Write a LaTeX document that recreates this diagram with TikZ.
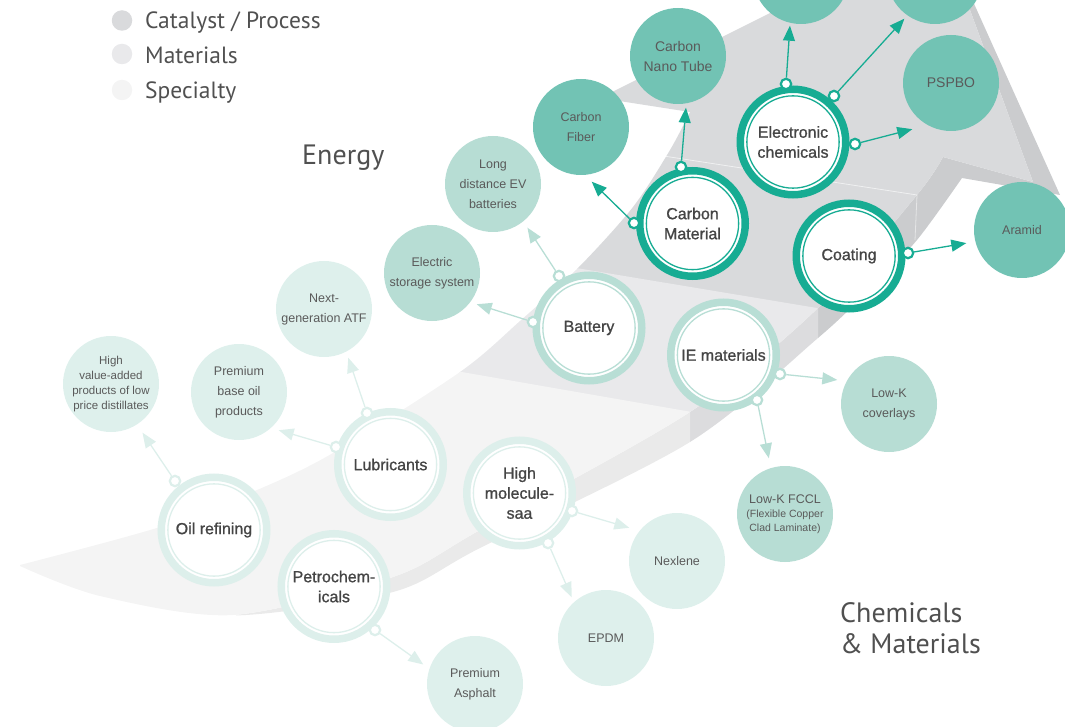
\documentclass[tikz,border=0pt]{standalone}
\usepackage{fontspec}
\setmainfont{Liberation Sans}
\newfontfamily\headfont{PT Sans}
\newfontfamily\ringfont{Liberation Sans}[FakeBold=1]
\usepackage{tikz}
\usetikzlibrary{arrows.meta}
\pgfdeclarelayer{bandlayer}
\pgfdeclarelayer{edgelayer}
\pgfdeclarelayer{nodelayer}
\pgfsetlayers{bandlayer,edgelayer,nodelayer,main}
\definecolor{tealline}{HTML}{17AC93}
\definecolor{tealfill}{HTML}{72C3B4}
\definecolor{mintline}{HTML}{B8DED5}
\definecolor{mintfill}{HTML}{B7DDD4}
\definecolor{paleline}{HTML}{DDEFEB}
\definecolor{palefill}{HTML}{DEF0EC}
\definecolor{ringtext}{HTML}{454545}
\definecolor{balltext}{HTML}{5A5A5A}
\definecolor{headtext}{HTML}{505050}
\definecolor{cattop}{HTML}{D9DADC}
\definecolor{catside}{HTML}{CBCCCE}
\definecolor{mattop}{HTML}{E9E9EB}
\definecolor{matside}{HTML}{DCDCDE}
\definecolor{spectop}{HTML}{F4F4F4}
\definecolor{specside}{HTML}{EAEAEA}
\tikzstyle{none}=[inner sep=0pt]
\tikzstyle{tealring}=[circle,fill=white,draw=tealline,line width=7.5pt,minimum size=105.5pt,inner sep=0pt]
\tikzstyle{mintring}=[circle,fill=white,draw=mintline,line width=7.5pt,minimum size=105.5pt,inner sep=0pt]
\tikzstyle{palering}=[circle,fill=white,draw=paleline,line width=7.5pt,minimum size=105.5pt,inner sep=0pt]
\tikzstyle{tealcore}=[circle,draw=tealline,line width=1.3pt,minimum size=92.3pt,inner sep=0pt,align=center,text=ringtext,font=\ringfont\fontsize{16}{20}\selectfont]
\tikzstyle{mintcore}=[circle,draw=mintline,line width=1.3pt,minimum size=92.3pt,inner sep=0pt,align=center,text=ringtext,font=\ringfont\fontsize{16}{20}\selectfont]
\tikzstyle{palecore}=[circle,draw=paleline,line width=1.3pt,minimum size=92.3pt,inner sep=0pt,align=center,text=ringtext,font=\ringfont\fontsize{16}{20}\selectfont]
\tikzstyle{tealball}=[circle,fill=tealfill,minimum size=96pt,inner sep=0pt,align=center,text=balltext,font=\fontsize{12.5}{20}\selectfont]
\tikzstyle{mintball}=[circle,fill=mintfill,minimum size=96pt,inner sep=0pt,align=center,text=balltext,font=\fontsize{12.5}{20}\selectfont]
\tikzstyle{paleball}=[circle,fill=palefill,minimum size=96pt,inner sep=0pt,align=center,text=balltext,font=\fontsize{12.5}{20}\selectfont]
\tikzstyle{tealdot}=[circle,fill=white,draw=tealline,line width=2.2pt,minimum size=10.4pt,inner sep=0pt]
\tikzstyle{mintdot}=[circle,fill=white,draw=mintline,line width=2.2pt,minimum size=10.4pt,inner sep=0pt]
\tikzstyle{paledot}=[circle,fill=white,draw=paleline,line width=2.2pt,minimum size=10.4pt,inner sep=0pt]
\tikzstyle{tealarrow}=[-{Triangle[length=15pt,width=12pt]},draw=tealline,line width=1.3pt]
\tikzstyle{mintarrow}=[-{Triangle[length=15pt,width=12pt]},draw=mintline,line width=1.3pt]
\tikzstyle{palearrow}=[-{Triangle[length=15pt,width=12pt]},draw=paleline,line width=1.3pt]
\tikzstyle{catdisc}=[circle,fill=cattop,minimum size=20.5pt,inner sep=0pt]
\tikzstyle{matdisc}=[circle,fill=mattop,minimum size=20.5pt,inner sep=0pt]
\tikzstyle{specdisc}=[circle,fill=spectop,minimum size=20.5pt,inner sep=0pt]
\tikzstyle{legend}=[inner sep=0pt,anchor=base west,text=headtext,font=\headfont\fontsize{23.5}{28}\selectfont]
\tikzstyle{sector}=[inner sep=0pt,anchor=base west,text=headtext,font=\headfont\fontsize{28}{31}\selectfont]
\newcommand{\bandtop}{plot [smooth] coordinates {(20,565) (160,527) (257,490) (333,453) (460,372) (520,321) (578,268) (633,207) (670,150) (690,112)} -- (600,98) -- (940,-72) -- (1033,182) -- (943,157) -- plot [smooth] coordinates {(943,157) (917,195) (818,308) (690,412) (480,530) (393,577) (233,615) (100,596) (20,566)} -- cycle}
\newcommand{\bandside}{plot [smooth] coordinates {(943,157) (917,195) (818,308) (690,412) (480,530) (393,577) (233,615) (100,596) (20,566)} -- plot [smooth] coordinates {(20,566) (100,596) (233,615.5) (393,592) (480,548) (690,442) (818,338) (870,289) (917,240) (962,178)} -- (1060,195) -- (940,-72) -- (1033,182) -- cycle}

\begin{document}
\begin{tikzpicture}[x=1pt,y=-1pt]
	\useasboundingbox (0,0) rectangle (1065,727);
	\begin{pgfonlayer}{bandlayer}
		\clip (0,0) rectangle (1065,727);
		\begin{scope}
			\clip (818,-100) rectangle (1100,800);
			\fill [catside] \bandside;
		\end{scope}
		\begin{scope}
			\clip (690,-100) rectangle (818,800);
			\fill [matside] \bandside;
		\end{scope}
		\begin{scope}
			\clip (236,-100) rectangle (690,800);
			\fill [specside] \bandside;
		\end{scope}
		\begin{scope}
			\clip (-50,-100) -- (1100,-100) -- (1100,356) -- (-50,165) -- cycle;
			\fill [cattop] \bandtop;
		\end{scope}
		\begin{scope}
			\clip (-50,164) -- (1100,355) -- (1100,484) -- (-50,284) -- cycle;
			\fill [mattop] \bandtop;
		\end{scope}
		\begin{scope}
			\clip (-50,283) -- (1100,483) -- (1100,800) -- (-50,800) -- cycle;
			\fill [spectop] \bandtop;
		\end{scope}
		\draw [white,opacity=0.6,line width=0.8pt] (657,155) -- (917,195);
		\draw [white,opacity=0.5,line width=0.8pt] (917,195) -- (915,240);
	\end{pgfonlayer}
	\begin{pgfonlayer}{nodelayer}
		\node [style=catdisc] (catalyst) at (122,20.5) {};
		\node [style=legend] (catalyst0) at (145,29) {Catalyst / Process};
		\node [style=matdisc] (material) at (122,54) {};
		\node [style=legend] (material0) at (145,63.5) {Materials};
		\node [style=specdisc] (specialty) at (122,90) {};
		\node [style=legend] (specialty0) at (145,98.5) {Specialty};
		\node [style=sector] (energy) at (302,165) {Energy};
		\node [style=sector] (chemicals) at (840,622) {Chemicals};
		\node [style=sector] (chemicals0) at (840,653) {\& Materials};
		\node [style=tealring] (carbon) at (692.500,223.500) {};
		\node [style=tealcore] (carbon0) at (692.500,223.500) {Carbon\\Material};
		\node [style=tealring] (electronic) at (793.000,142.000) {};
		\node [style=tealcore] (electronic0) at (793.000,142.000) {Electronic\\chemicals};
		\node [style=tealring] (coating) at (849.000,256.000) {};
		\node [style=tealcore] (coating0) at (849.000,256.000) {Coating};
		\node [style=mintring] (battery) at (589.000,328.000) {};
		\node [style=mintcore] (battery0) at (589.000,328.000) {Battery};
		\node [style=mintring] (iemat) at (723.500,355.000) {};
		\node [style=mintcore] (iemat0) at (723.500,355.000) {IE materials};
		\node [style=palering] (highmol) at (519.500,493.000) {};
		\node [style=palecore] (highmol0) at (519.500,493.000) {High\\molecule-\\saa};
		\node [style=palering] (lubricant) at (390.500,464.500) {};
		\node [style=palecore] (lubricant0) at (390.500,464.500) {Lubricants};
		\node [style=palering] (oilref) at (214.000,530.000) {};
		\node [style=palecore] (oilref0) at (214.000,530.000) {Oil refining};
		\node [style=palering] (petro) at (334.000,586.500) {};
		\node [style=palecore] (petro0) at (334.000,586.500) {Petrochem-\\icals};
		\node [style=tealball] (carbonfiber) at (581.000,127.000) {Carbon\\Fiber};
		\node [style=tealball,font=\fontsize{14}{20}\selectfont] (nanotube) at (678.000,56.000) {Carbon\\Nano Tube};
		\node [style=tealball] (chemleft) at (801.000,-24.000) {};
		\node [style=tealball] (chemright) at (935.000,-24.000) {};
		\node [style=tealball,font=\fontsize{14}{20}\selectfont] (pspbo) at (951.000,83.000) {PSPBO};
		\node [style=tealball] (aramid) at (1022.000,230.000) {Aramid};
		\node [style=mintball] (evbattery) at (493.000,184.000) {Long\\distance EV\\batteries};
		\node [style=mintball] (storage) at (432.000,273.000) {Electric\\storage system};
		\node [style=mintball] (coverlay) at (889.000,404.000) {Low-K\\coverlays};
		\node [style=mintball,font=\fontsize{12.5}{14}\selectfont] (lowkfccl) at (785.000,514.000) {Low-K FCCL\\\fontsize{10.5}{14}\selectfont(Flexible Copper\\\fontsize{10.5}{14}\selectfont Clad Laminate)};
		\node [style=paleball] (nextatf) at (324.000,309.000) {Next-\\generation ATF};
		\node [style=paleball] (baseoil) at (239.000,392.000) {Premium\\base oil\\products};
		\node [style=paleball,font=\fontsize{11.5}{14.7}\selectfont] (highvalue) at (111.000,384.000) {High\\value-added\\products of low\\price distillates};
		\node [style=paleball] (nexlene) at (677.000,561.000) {Nexlene};
		\node [style=paleball] (epdm) at (606.000,638.000) {EPDM};
		\node [style=paleball] (asphalt) at (475.000,684.000) {Premium\\Asphalt};
		\node [style=tealdot] (fiber) at (634.000,223.000) {};
		\node [style=none] (fiber0) at (591.000,181.000) {};
		\node [style=tealdot] (tube) at (681.000,167.000) {};
		\node [style=none] (tube0) at (686.000,107.000) {};
		\node [style=tealdot] (upper) at (786.000,84.000) {};
		\node [style=none] (upper0) at (790.000,25.000) {};
		\node [style=tealdot] (upperright) at (834.000,96.000) {};
		\node [style=none] (upperright0) at (905.000,18.000) {};
		\node [style=tealdot] (pbo) at (855.000,144.000) {};
		\node [style=none] (pbo0) at (913.000,129.000) {};
		\node [style=tealdot] (aram) at (908.000,253.000) {};
		\node [style=none] (aram0) at (967.000,243.000) {};
		\node [style=mintdot] (ev) at (559.000,276.000) {};
		\node [style=none] (ev0) at (527.000,227.000) {};
		\node [style=mintdot] (ess) at (533.000,322.000) {};
		\node [style=none] (ess0) at (476.000,304.000) {};
		\node [style=mintdot] (lowk) at (780.000,374.000) {};
		\node [style=none] (lowk0) at (838.000,380.000) {};
		\node [style=mintdot] (fccl) at (757.000,400.000) {};
		\node [style=none] (fccl0) at (769.000,459.000) {};
		\node [style=paledot] (hva) at (175.000,481.000) {};
		\node [style=none] (hva0) at (142.000,432.000) {};
		\node [style=paledot] (atf) at (367.000,413.000) {};
		\node [style=none] (atf0) at (348.000,357.000) {};
		\node [style=paledot] (base) at (336.000,447.000) {};
		\node [style=none] (base0) at (278.000,430.000) {};
		\node [style=paledot] (nex) at (572.000,511.000) {};
		\node [style=none] (nex0) at (630.000,528.000) {};
		\node [style=paledot] (ep) at (548.000,543.000) {};
		\node [style=none] (ep0) at (572.000,598.000) {};
		\node [style=paledot] (asph) at (375.000,630.000) {};
		\node [style=none] (asph0) at (424.000,665.000) {};
	\end{pgfonlayer}
	\begin{pgfonlayer}{edgelayer}
		\draw [style=tealarrow] (fiber) to (fiber0);
		\draw [style=tealarrow] (tube) to (tube0);
		\draw [style=tealarrow] (upper) to (upper0);
		\draw [style=tealarrow] (upperright) to (upperright0);
		\draw [style=tealarrow] (pbo) to (pbo0);
		\draw [style=tealarrow] (aram) to (aram0);
		\draw [style=mintarrow] (ev) to (ev0);
		\draw [style=mintarrow] (ess) to (ess0);
		\draw [style=mintarrow] (lowk) to (lowk0);
		\draw [style=mintarrow] (fccl) to (fccl0);
		\draw [style=palearrow] (hva) to (hva0);
		\draw [style=palearrow] (atf) to (atf0);
		\draw [style=palearrow] (base) to (base0);
		\draw [style=palearrow] (nex) to (nex0);
		\draw [style=palearrow] (ep) to (ep0);
		\draw [style=palearrow] (asph) to (asph0);
	\end{pgfonlayer}
\end{tikzpicture}
\end{document}
